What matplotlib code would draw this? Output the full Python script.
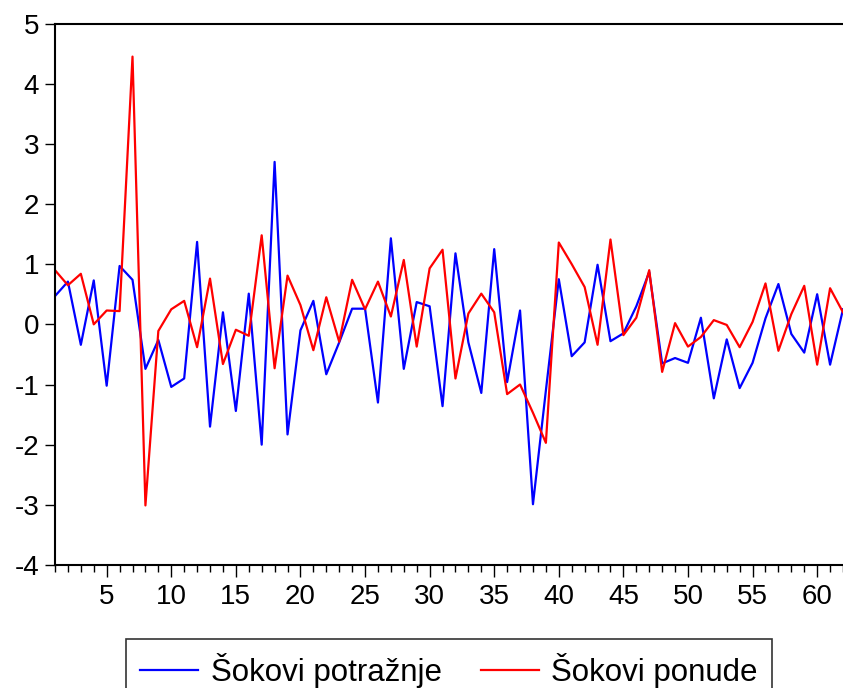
import matplotlib
matplotlib.use("Agg")
import matplotlib.pyplot as plt
from matplotlib.ticker import MultipleLocator
import numpy as np

obs = list(range(1, 63))
demand_shocks = [0.47, 0.71, -0.34, 0.73, -1.02, 0.97, 0.74, -0.74, -0.26, -1.04,
                 -0.90, 1.37, -1.70, 0.20, -1.44, 0.51, -2.00, 2.70, -1.83, -0.10,
                 0.39, -0.83, -0.30, 0.26, 0.26, -1.30, 1.43, -0.74, 0.37, 0.30,
                 -1.36, 1.18, -0.30, -1.14, 1.25, -0.96, 0.23, -2.99, -1.10, 0.75,
                 -0.53, -0.30, 0.99, -0.28, -0.15, 0.30, 0.87, -0.65, -0.56, -0.64,
                 0.11, -1.23, -0.25, -1.06, -0.64, 0.10, 0.67, -0.16, -0.47, 0.50,
                 -0.67, 0.25]
supply_shocks = [0.90, 0.65, 0.84, 0.00, 0.23, 0.22, 4.45, -3.01, -0.11, 0.25,
                 0.39, -0.38, 0.76, -0.66, -0.09, -0.19, 1.48, -0.73, 0.81, 0.32,
                 -0.43, 0.45, -0.29, 0.74, 0.25, 0.71, 0.13, 1.07, -0.37, 0.93,
                 1.24, -0.90, 0.18, 0.51, 0.20, -1.16, -1.00, -1.47, -1.97, 1.36,
                 1.00, 0.62, -0.34, 1.41, -0.18, 0.11, 0.90, -0.79, 0.02, -0.37,
                 -0.21, 0.07, -0.01, -0.38, 0.04, 0.68, -0.44, 0.17, 0.64, -0.67,
                 0.60, 0.20]
labels = ["Šokovi potražnje", "Šokovi ponude"]
xticks = [5, 10, 15, 20, 25, 30, 35, 40, 45, 50, 55, 60]
yticks = [-4, -3, -2, -1, 0, 1, 2, 3, 4, 5]

plt.rcParams['font.family'] = ['Liberation Sans', 'DejaVu Sans']
plt.rcParams['axes.unicode_minus'] = False

fig = plt.figure(figsize=(8.43, 6.88), dpi=100)
ax = fig.add_axes([55/843, 1-565/688, 1-55/843, (565-23.5)/688])

l1, = ax.plot(obs, demand_shocks, color='#0000ff', lw=1.6, label=labels[0])
l2, = ax.plot(obs, supply_shocks, color='#ff0000', lw=1.6, label=labels[1])

ax.set_xlim(1, 62)
ax.set_ylim(-4, 5)
ax.set_xticks(xticks)
ax.set_yticks(yticks)
ax.xaxis.set_minor_locator(MultipleLocator(1))
ax.tick_params(axis='x', which='major', direction='out', length=8.5, width=1, labelsize=20, pad=5)
ax.tick_params(axis='x', which='minor', direction='out', length=5, width=1)
ax.tick_params(axis='y', which='major', direction='out', length=7.5, width=1, labelsize=20, pad=4)
ax.spines['right'].set_visible(False)
for s in ['left', 'top', 'bottom']:
    ax.spines[s].set_linewidth(1.5)

leg = fig.legend(handles=[l1, l2], loc='upper center',
                 bbox_to_anchor=(449/843, 1-639/688), ncol=2, frameon=True,
                 fancybox=False, edgecolor='black', fontsize=22.5, handlelength=1.85,
                 columnspacing=1.25, handletextpad=0.4, borderpad=0.45,
                 borderaxespad=0)
leg.get_frame().set_linewidth(1.2)

fig.savefig("out.png", dpi=100)
